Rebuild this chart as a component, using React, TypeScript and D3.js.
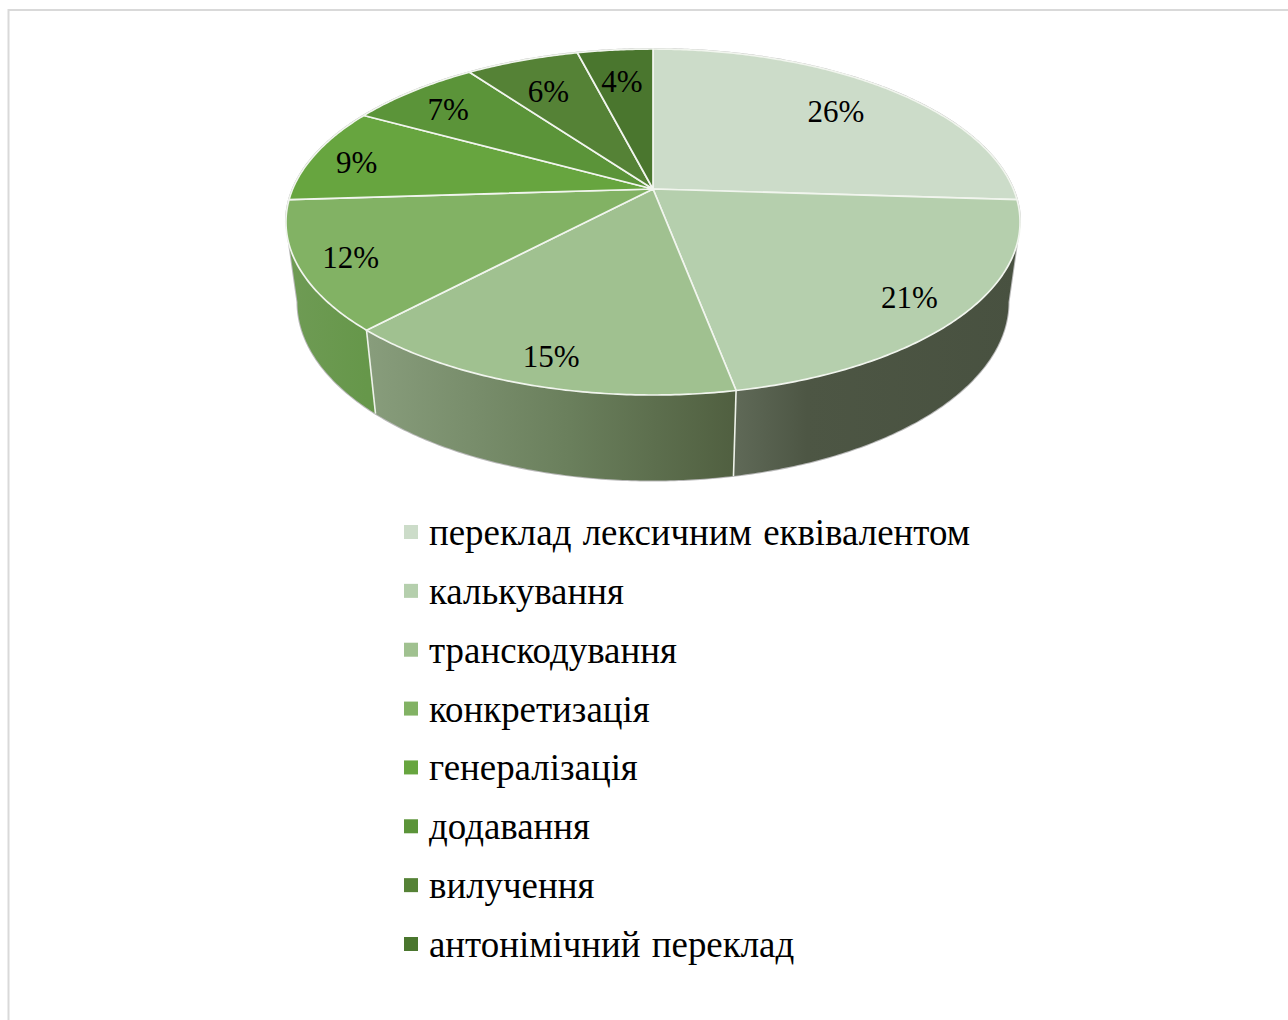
import React from "react";
import * as d3 from "d3";

const categories = [
  "переклад лексичним еквівалентом",
  "калькування",
  "транскодування",
  "конкретизація",
  "генералізація",
  "додавання",
  "вилучення",
  "антонімічний переклад",
];
const shares = [26, 21, 15, 12, 9, 7, 6, 4];
const sliceColors = ["#ccdcc9", "#b5cfad", "#a0c190", "#82b264", "#67a53f", "#5b9439", "#558236", "#4a762e"];

// Wall shading for the front-facing slices, as left-to-right stops.
const wallShades: Record<number, [number, string][]> = {
  1: [[0, "#5f6957"], [0.25, "#4d5644"], [1, "#485140"]],
  2: [[0, "#889d7c"], [0.55, "#6a7f5c"], [1, "#505f40"]],
  3: [[0, "#6f9b55"], [1, "#66974a"]],
};
// Radial position of each percentage label, as a fraction of the radius,
// and a small sideways / downward nudge applied after projection.
const labelRadii = [0.775, 0.85, 0.855, 0.86, 0.87, 0.82, 0.765, 0.765];
const labelNudgeX = [-2, -1, 0, -1, -1, -4, -1, -1];
const labelNudgeY = [3, 4, 5, 3, 4, 3, 5, 3];

const W = 1288;
const H = 1020;
const FONT = "'Liberation Serif', serif";

// Perspective projection of the disc: k sets how strongly the far edge shrinks.
const k = 0.1908;
const project = (cx: number, cy: number, a: number, b: number) => (t: number, r = 1): [number, number] => {
  const w = 1 + k * r * Math.cos(t);
  return [cx + (a * r * Math.sin(t)) / w, cy - (b * r * Math.cos(t)) / w];
};
const topFace = project(653, 189, 360.3, 166.7);
const bottomFace = project(653, 268, 349, 172);

// Angles where the disc's outline turns from the top face to the side wall.
const tangentRight = Math.PI - Math.asin(Math.sqrt(1 - k * k));
const tangentLeft = 2 * Math.PI - tangentRight;

const arcs = d3.pie<number>().sort(null).value((d) => d)(shares);
const line = d3.line();

const sample = (from: number, to: number) => {
  const n = Math.max(2, Math.ceil(Math.abs(to - from) / 0.01));
  return d3.range(n + 1).map((i) => from + ((to - from) * i) / n);
};
const sectorPath = (from: number, to: number) =>
  line([topFace(0, 0), ...sample(from, to).map((t) => topFace(t))]) + "Z";
const wallPath = (from: number, to: number) =>
  line([...sample(from, to).map((t) => topFace(t)), ...sample(to, from).map((t) => bottomFace(t))]) + "Z";

const outline =
  line([
    ...sample(tangentLeft, tangentRight + 2 * Math.PI).map((t) => topFace(t)),
    ...sample(tangentRight, tangentLeft).map((t) => bottomFace(t)),
  ]) + "Z";

const legendY = d3.scalePoint<string>().domain(categories).range([533, 945]);

export default function App() {
  return (
    <svg
      width={W}
      height={H}
      viewBox={`0 0 ${W} ${H}`}
      style={{ position: "fixed", left: 0, top: 0, display: "block", background: "#fff" }}
      fontFamily={FONT}
    >
      <defs>
        {arcs.map((s, i) => {
          const shade = wallShades[i];
          if (!shade) return null;
          const a = Math.max(s.startAngle, tangentRight);
          const b = Math.min(s.endAngle, tangentLeft);
          return (
            <linearGradient
              key={i}
              id={`wall-${i}`}
              gradientUnits="userSpaceOnUse"
              x1={Math.min(topFace(a)[0], topFace(b)[0])}
              x2={Math.max(topFace(a)[0], topFace(b)[0])}
              y1={0}
              y2={0}
            >
              {shade.map(([o, c]) => (
                <stop key={o} offset={o} stopColor={c} />
              ))}
            </linearGradient>
          );
        })}
      </defs>

      {/* frame of the chart area, running off the right and bottom */}
      <path d={`M8.5 1020V10H1288`} fill="none" stroke="#d9d9d9" strokeWidth={2} />

      {/* rim shadow */}
      <path d={outline} fill="#fff" stroke="#b9b9b9" strokeWidth={2} />

      {/* side walls */}
      {arcs.map((s, i) => {
        const a = Math.max(s.startAngle, tangentRight);
        const b = Math.min(s.endAngle, tangentLeft);
        if (a >= b) return null;
        return <path key={i} d={wallPath(a, b)} fill={`url(#wall-${i})`} />;
      })}
      {arcs.slice(1).map((s, i) =>
        s.startAngle > tangentRight && s.startAngle < tangentLeft ? (
          <path
            key={i}
            d={line([topFace(s.startAngle), bottomFace(s.startAngle)]) as string}
            stroke="#eef2ea"
            strokeWidth={1.6}
            fill="none"
          />
        ) : null
      )}

      {/* top face */}
      {arcs.map((s, i) => (
        <path
          key={i}
          d={sectorPath(s.startAngle, s.endAngle)}
          fill={sliceColors[i]}
          stroke="#f1f5ee"
          strokeWidth={1.7}
          strokeLinejoin="round"
        />
      ))}

      {/* percentage labels */}
      {arcs.map((s, i) => {
        const [x, y] = topFace((s.startAngle + s.endAngle) / 2, labelRadii[i]);
        return (
          <text
            key={i}
            x={x + labelNudgeX[i]}
            y={y + labelNudgeY[i]}
            dy="0.33em"
            textAnchor="middle"
            fontSize={31}
            fill="#000"
          >
            {shares[i]}%
          </text>
        );
      })}

      {/* legend */}
      {categories.map((c, i) => {
        const y = legendY(c) as number;
        return (
          <g key={c}>
            <rect x={404} y={y - 8} width={14} height={14} fill={sliceColors[i]} />
            <text x={429} y={y + 12} fontSize={36.9} fill="#000" wordSpacing={2}>
              {c}
            </text>
          </g>
        );
      })}
    </svg>
  );
}
